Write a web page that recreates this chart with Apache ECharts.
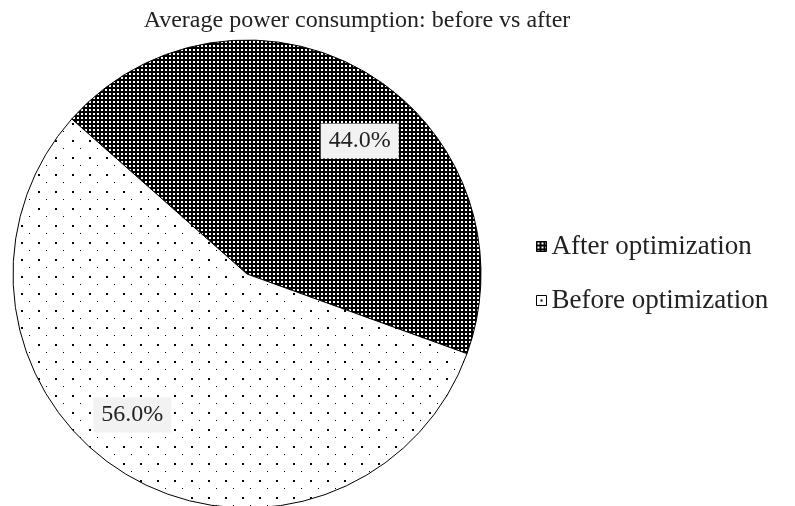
<!DOCTYPE html>
<html>
<head>
<meta charset="utf-8">
<script src="https://cdn.jsdelivr.net/npm/echarts@6/dist/echarts.min.js"></script>
<style>
  html, body { margin: 0; padding: 0; background: #fff; }
  #chart { width: 795px; height: 506px; }
</style>
</head>
<body>
<div id="chart"></div>
<script>
// data
const sliceNames = ["After optimization", "Before optimization"];
const sliceValues = [44.0, 56.0];
const titleText = "Average power consumption: before vs after";

const FONT = "Liberation Serif";

// dense pattern: black with small white squares
function makeDense() {
  const c = document.createElement("canvas");
  c.width = 4; c.height = 4;
  const g = c.getContext("2d");
  g.fillStyle = "#000";
  g.fillRect(0, 0, 4, 4);
  g.fillStyle = "#fff";
  g.fillRect(1, 1, 2, 2);
  return c;
}
// sparse pattern: white with staggered dots
function makeSparse() {
  const c = document.createElement("canvas");
  c.width = 17; c.height = 17;
  const g = c.getContext("2d");
  g.fillStyle = "#fff";
  g.fillRect(0, 0, 17, 17);
  g.fillStyle = "#000";
  g.fillRect(4, 4, 2, 2);
  g.fillRect(12, 12, 1, 1);
  return c;
}
const fills = [
  { image: makeDense(), repeat: "repeat" },
  { image: makeSparse(), repeat: "repeat" }
];

const pieData = sliceNames.map((n, i) => ({
  name: n,
  value: sliceValues[i],
  itemStyle: { color: fills[i] }
}));
const labelData = sliceNames.map((n, i) => ({ name: n, value: sliceValues[i] }));

const chart = echarts.init(document.getElementById("chart"));
chart.setOption({
  backgroundColor: "#fff",
  animation: false,
  title: {
    text: titleText,
    left: 352,
    textAlign: "center",
    top: 4,
    textStyle: { fontFamily: FONT, fontSize: 24, fontWeight: "normal", color: "#222" }
  },
  legend: {
    orient: "vertical",
    left: 536,
    top: 233,
    padding: 0,
    itemWidth: 10,
    itemHeight: 10,
    itemGap: 27,
    icon: "rect",
    data: sliceNames,
    itemStyle: { borderColor: "#000", borderWidth: 1 },
    textStyle: { fontFamily: FONT, fontSize: 27, color: "#222", lineHeight: 27 }
  },
  series: [
    {
      type: "pie",
      center: [247, 274],
      radius: 234,
      startAngle: 138.5,
      clockwise: true,
      silent: true,
      label: { show: false },
      labelLine: { show: false },
      itemStyle: { borderColor: "#000", borderWidth: 1 },
      data: pieData
    },
    {
      type: "pie",
      center: [246, 278],
      radius: [116, 234],
      startAngle: 129.5,
      clockwise: true,
      silent: true,
      itemStyle: { color: "rgba(0,0,0,0)", borderWidth: 0 },
      labelLine: { show: false },
      label: {
        show: true,
        position: "inside",
        formatter: p => p.value.toFixed(1) + "%",
        fontFamily: FONT,
        fontSize: 24,
        color: "#222",
        backgroundColor: "#f2f2f2",
        padding: [6, 8, 5, 8]
      },
      data: labelData
    }
  ]
});
</script>
</body>
</html>
